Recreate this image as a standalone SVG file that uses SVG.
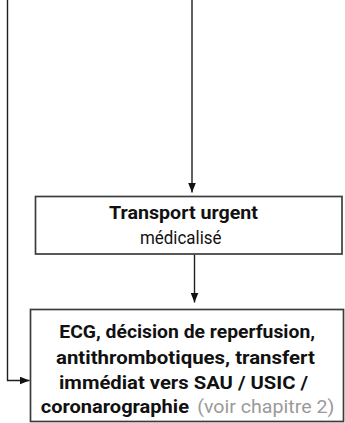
<svg xmlns="http://www.w3.org/2000/svg" width="345" height="423" viewBox="0 0 345 423">
  <defs>
    <marker id="arrow" viewBox="0 0 10 8" refX="10" refY="4" markerWidth="10" markerHeight="8" markerUnits="userSpaceOnUse" orient="auto">
      <path d="M0,0 L10,4 L0,8 Z" fill="#111"/>
    </marker>
    <style>
      .box { fill: #fff; stroke: #3c3c3c; stroke-width: 1.7; }
      .link { fill: none; stroke: #1e1e1e; stroke-width: 1.4; marker-end: url(#arrow); }
      .b { font-family: Roboto, "Liberation Sans", sans-serif; font-weight: 700; font-size: 17.6px; fill: #111; }
      .r { font-family: Roboto, "Liberation Sans", sans-serif; font-weight: 400; font-size: 17.6px; fill: #111; }
      .note { fill: #9a9a9a; }
    </style>
  </defs>
  <rect width="345" height="423" fill="#fff"/>

  <g id="connectors">
    <path class="link" d="M7.5,0 V380.5 H29.5"/>
    <path class="link" d="M192,0 V192.5"/>
    <path class="link" d="M194.5,254.5 V302.5"/>
  </g>

  <g id="transport">
    <rect class="box" x="35.5" y="196.5" width="306.5" height="57.5"/>
    <text class="b" x="109" y="218.8" textLength="149" lengthAdjust="spacingAndGlyphs">Transport urgent</text>
    <text class="r" x="140" y="243.8" textLength="81.5" lengthAdjust="spacingAndGlyphs">médicalisé</text>
  </g>

  <g id="ecg">
    <rect class="box" x="30.5" y="309.5" width="313" height="112"/>
    <text class="b" x="59.3" y="338.3" textLength="255.7" lengthAdjust="spacingAndGlyphs">ECG, décision de reperfusion,</text>
    <text class="b" x="56" y="364" textLength="259" lengthAdjust="spacingAndGlyphs">antithrombotiques, transfert</text>
    <text class="b" x="59" y="389" textLength="249" lengthAdjust="spacingAndGlyphs">immédiat vers SAU / USIC /</text>
    <text class="b" x="40.7" y="413.3" textLength="148.3" lengthAdjust="spacingAndGlyphs">coronarographie</text>
    <text class="r note" x="197.3" y="413.3" textLength="137" lengthAdjust="spacingAndGlyphs">(voir chapitre 2)</text>
  </g>
</svg>
